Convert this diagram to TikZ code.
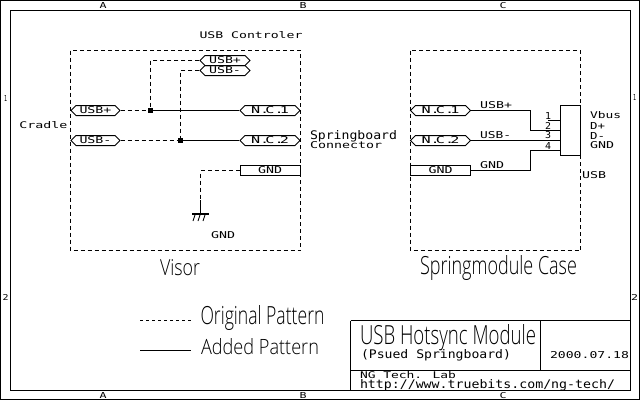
\documentclass[tikz,border=0pt]{standalone}
\usepackage{fontspec}
\setmainfont{Liberation Sans}
\newfontfamily\monofnt{DejaVu Sans Mono}
\newfontfamily\thinfnt{Open Sans Light}
\newcommand{\vtxt}[3]{\resizebox{#1pt}{#2pt}{\monofnt #3}}
\newcommand{\btxt}[3]{\resizebox{#1pt}{#2pt}{\thinfnt #3}}
\newcommand{\nctxt}[1]{\vtxt{38}{7}{N.\kern-.25em C.\kern-.25em #1}}
\usetikzlibrary{shapes.symbols}
\tikzset{
  frameline/.style={draw=black,line width=1pt},
  solidwire/.style={draw=black,line width=1pt},
  dashwire/.style={draw=black,line width=1pt,dash pattern=on 4pt off 3pt},
  lbl/.style={inner sep=0pt,outer sep=0pt,text=black},
  lblw/.style={lbl,anchor=west},
  port/.style={draw=black,line width=1pt,inner sep=0pt,minimum height=10pt,text=black},
  hexport/.style={port,shape=signal,signal to=east and west,signal pointer angle=90},
  rectport/.style={port,shape=rectangle},
  junction/.style={fill=black,draw=none,minimum size=5pt,inner sep=0pt,shape=rectangle},
}
\begin{document}
\begin{tikzpicture}[x=1pt,y=-1pt]
\useasboundingbox (0,0) rectangle (640,400);
\fill[white] (0,0) rectangle (640,400);
% frame
\draw[frameline] (0.5,0.5) rectangle (639.5,399.5);
\draw[frameline] (10.5,10.5) rectangle (630.5,390.5);
% zone letters
\foreach \n/\x/\t in {ta/103/A,tb/303/B,tc/503/C}{\node[lbl] (\n) at (\x,5.5) {\vtxt{7}{6}{\t}};}
\foreach \n/\x/\t in {ba/103/A,bb/303/B,bc/503/C}{\node[lbl] (\n) at (\x,395.5) {\vtxt{7}{6}{\t}};}
\node[lbl] (l1) at (5.5,98) {\vtxt{3}{6}{1}};
\node[lbl] (l2) at (5.5,297.5) {\vtxt{6}{6}{2}};
\node[lbl] (r1) at (634.5,97.5) {\vtxt{3}{6}{1}};
\node[lbl] (r2) at (634.5,297.5) {\vtxt{7}{6}{2}};
% boxes
\draw[dashwire] (70.5,50.5) rectangle (300.5,250.5);
\draw[dashwire] (410.5,50.5) rectangle (580.5,250.5);
\node[lbl] (tctl) at (251,35) {\vtxt{103}{7}{USB Controler}};
\node[lbl] (tcradle) at (43.5,125.5) {\vtxt{48}{7}{Cradle}};
\node[lblw] (tsb) at (310,136.5) {\vtxt{87}{9}{Springboard}};
\node[lblw] (tcn) at (310,145.5) {\vtxt{72}{7}{Connector}};
% ports left
\node[hexport,minimum width=50pt] (hup) at (225,60.5) {\vtxt{32}{7}{USB+}};
\node[hexport,minimum width=50pt] (hum) at (225,70.5) {\vtxt{32}{7}{USB-}};
\node[hexport,minimum width=49pt] (cup) at (95.5,110.5) {\vtxt{32}{7}{USB+}};
\node[hexport,minimum width=49pt] (cum) at (95.5,140.5) {\vtxt{32}{7}{USB-}};
\node[hexport,minimum width=60pt] (nc1) at (270,110.5) {\nctxt{1}};
\node[hexport,minimum width=60pt] (nc2) at (270,140.5) {\nctxt{2}};
\node[rectport,minimum width=60pt] (g1) at (270,170.5) {\vtxt{24}{7}{GND}};
% junctions
\node[junction] (j1) at (150.5,110.5) {};
\node[junction] (j2) at (180.5,140.5) {};
\coordinate (gt) at (200.5,213.5);
\draw[dashwire] (hup.west) -| (j1);
\draw[dashwire] (hum.west) -| (j2);
\draw[dashwire] (cup.east) -- (j1);
\draw[dashwire] (cum.east) -- (j2);
\draw[solidwire] (j1) -- (nc1.west);
\draw[solidwire] (j2) -- (nc2.west);
\draw[dashwire] (g1.west) -| (200.5,200);
\draw[solidwire] (200.5,200) -- (gt);
\draw[draw=black,line width=2pt] (192,214) -- (209,214);
\foreach \x in {193,198,203}{\draw[line width=.8pt] (\x+2,215) -- (\x,221);}
\node[lbl] (tgnd) at (223,235.5) {\vtxt{24}{7}{GND}};
\node[lbl] (tvis) at (180,267.5) {\btxt{40}{16}{Visor}};
% right
\node[hexport,minimum width=60pt] (rn1) at (440.5,110.5) {\nctxt{1}};
\node[hexport,minimum width=60pt] (rn2) at (440.5,140.5) {\nctxt{2}};
\node[rectport,minimum width=60pt] (rg) at (440.5,170.5) {\vtxt{24}{7}{GND}};
\node[draw=black,line width=1pt,minimum width=20pt,minimum height=50pt,inner sep=0pt] (usb) at (570.5,130.5) {};
\coordinate (p1) at (560.5,120.5);
\coordinate (p2) at (560.5,130.5);
\coordinate (p3) at (560.5,140.5);
\coordinate (p4) at (560.5,150.5);
\draw[solidwire] (rn1.east) -- (530.5,110.5) -- (530.5,130.5) -- (p2);
\draw[solidwire] (rn2.east) -- (p3);
\draw[solidwire] (rg.east) -- (530.5,170.5) -- (530.5,150.5) -- (p4);
\draw[solidwire] (548,120.5) -- (p1);
\node[lblw] (tu1) at (480,105) {\vtxt{32}{7}{USB+}};
\node[lblw] (tu2) at (480,135) {\vtxt{31}{7}{USB-}};
\node[lblw] (tu3) at (480,165.5) {\vtxt{24}{7}{GND}};
\foreach \n/\y/\t in {n1/115.5/1,n2/125.5/2,n3/135.5/3,n4/145.5/4}{\node[lbl] (\n) at (548,\y) {\vtxt{6}{7}{\t}};}
\node[lblw] (tv) at (590,115.5) {\vtxt{31}{7}{Vbus}};
\node[lblw] (tdp) at (590,125.5) {\vtxt{15}{7}{D+}};
\node[lblw] (tdm) at (590,135.5) {\vtxt{15}{7}{D-}};
\node[lblw] (tg) at (590,145.5) {\vtxt{24}{7}{GND}};
\node[lblw] (tusb) at (582,175.5) {\vtxt{24}{7}{USB}};
\node[lbl] (tcase) at (498.5,267.5) {\btxt{157}{19}{Springmodule Case}};
% legend
\coordinate (la) at (140,320.5);
\coordinate (lb) at (191,320.5);
\coordinate (lc) at (140,350.5);
\coordinate (ld) at (191,350.5);
\draw[draw=black,line width=1pt,dash pattern=on 3pt off 3pt] (la) -- (lb);
\draw[solidwire] (lc) -- (ld);
\node[lblw] (to) at (200.5,317.5) {\btxt{124}{19}{Original Pattern}};
\node[lblw] (ta) at (201,347) {\btxt{118}{16}{Added Pattern}};
% title block
\draw[frameline] (350.5,320.5) -- (630.5,320.5);
\draw[frameline] (350.5,320.5) -- (350.5,390.5);
\draw[frameline] (350.5,370.5) -- (630.5,370.5);
\draw[frameline] (540.5,320.5) -- (540.5,370.5);
\node[lblw] (tt) at (360,337.5) {\btxt{176}{20}{USB Hotsync Module}};
\node[lblw] (tp) at (361,355.5) {\vtxt{150}{9}{(Psued Springboard)}};
\node[lblw] (td) at (550,355.5) {\vtxt{79}{7}{2000.07.18}};
\node[lblw] (tn) at (360,375.5) {\vtxt{96}{7}{NG Tech. Lab}};
\node[lblw] (tw) at (360,385.5) {\vtxt{255}{9}{http://www.truebits.com/ng-tech/}};
\end{tikzpicture}
\end{document}
